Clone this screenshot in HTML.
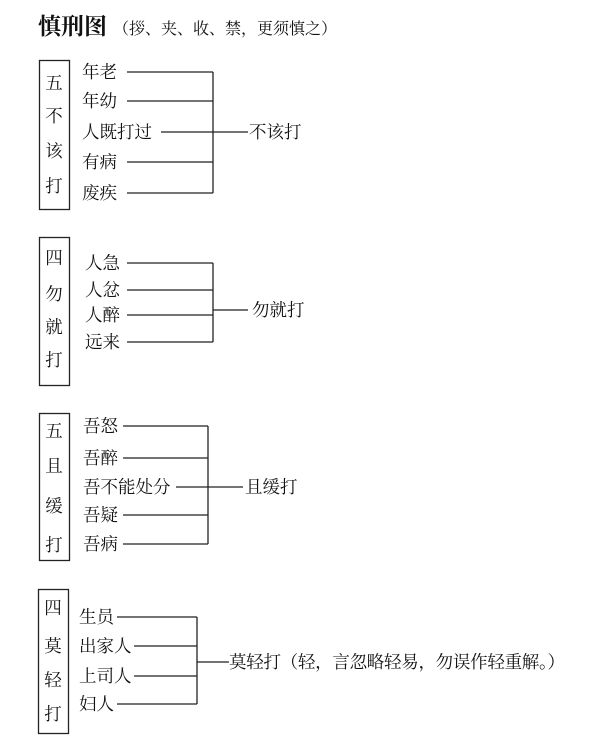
<!DOCTYPE html>
<html><head><meta charset="utf-8"><style>
body{margin:0;background:#fff;}
svg text{font-family:"Liberation Serif","Noto Serif CJK SC",serif;fill:#111;}
</style></head><body>
<svg width="600" height="748" viewBox="0 0 600 748" xmlns="http://www.w3.org/2000/svg">
<text x="38" y="34" font-size="23" font-weight="bold">慎刑图</text>
<text x="113" y="34" font-size="16">（拶、夹、收、禁，更须慎之）</text>
<g stroke="#222" stroke-width="1.3" fill="none">
<rect x="39.5" y="60.5" width="30" height="149"/>
<path d="M127 72H213M127 101H213M161 132H248M127 162H213M127 193H213M213 72V193"/>
<rect x="39.5" y="237.5" width="30" height="148"/>
<path d="M127 263H213M127 290H213M127 315H213M127 342H213M213 263V342M213 310H248"/>
<rect x="39.5" y="413.5" width="30" height="147"/>
<path d="M123 426H208M123 458H208M176 487H243M123 515H208M123 544H208M208 426V544"/>
<rect x="38.5" y="589.5" width="30" height="144"/>
<path d="M117 617H197M134 646H197M134 676H197M117 704H197M197 617V704M197 662H229"/>
</g>
<g font-size="17.5" text-anchor="middle">
<text x="54" y="89">五</text><text x="54" y="122">不</text><text x="54" y="157">该</text><text x="54" y="192">打</text>
<text x="54" y="264">四</text><text x="54" y="300">勿</text><text x="54" y="333">就</text><text x="54" y="366">打</text>
<text x="54" y="437">五</text><text x="54" y="472">且</text><text x="54" y="512">缓</text><text x="54" y="551">打</text>
<text x="53" y="614">四</text><text x="53" y="652">莫</text><text x="53" y="686">轻</text><text x="53" y="720">打</text>
</g>
<g font-size="17.5">
<text x="82" y="78">年老</text><text x="82" y="107">年幼</text><text x="82" y="138">人既打过</text><text x="82" y="168">有病</text><text x="82" y="199">废疾</text>
<text x="249" y="138">不该打</text>
<text x="85" y="269">人急</text><text x="85" y="296">人忿</text><text x="85" y="321">人醉</text><text x="85" y="348">远来</text>
<text x="252" y="316">勿就打</text>
<text x="83" y="432">吾怒</text><text x="83" y="464">吾醉</text><text x="83" y="493">吾不能处分</text><text x="83" y="521">吾疑</text><text x="83" y="550">吾病</text>
<text x="245" y="493">且缓打</text>
<text x="79" y="623">生员</text><text x="79" y="652">出家人</text><text x="79" y="682">上司人</text><text x="79" y="710">妇人</text>
<text x="229" y="668" textLength="336">莫轻打（轻，言忽略轻易，勿误作轻重解。）</text>
</g>
</svg>
</body></html>
